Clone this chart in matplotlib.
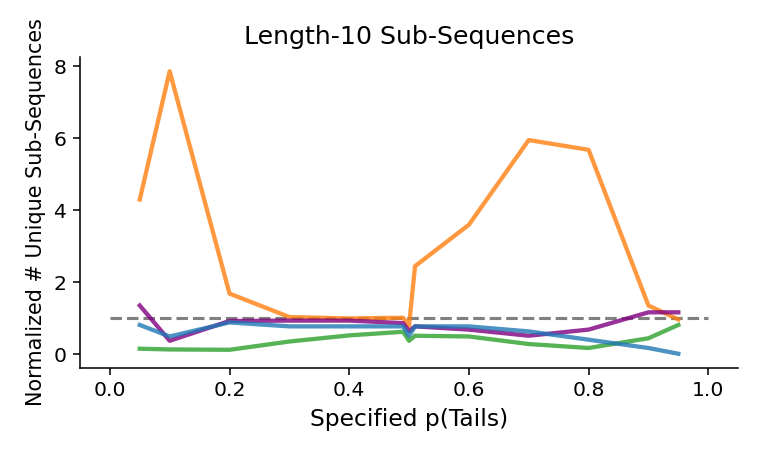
import numpy as np
import matplotlib
matplotlib.use("Agg")
import matplotlib.pyplot as plt

# specified probability of tails
p_tails = [0.05, 0.1, 0.2, 0.3, 0.4, 0.49, 0.5, 0.51, 0.6, 0.7, 0.8, 0.9, 0.95]

# normalized number of unique length-10 sub-sequences, one list per generator
orange_vals = [4.3, 7.86, 1.69, 1.04, 1.0, 1.02, 0.8, 2.45, 3.6, 5.95, 5.68, 1.36, 0.97]
green_vals = [0.16, 0.14, 0.13, 0.36, 0.53, 0.63, 0.38, 0.52, 0.5, 0.29, 0.18, 0.45, 0.82]
purple_vals = [1.36, 0.38, 0.93, 0.94, 0.94, 0.87, 0.65, 0.78, 0.69, 0.52, 0.69, 1.17, 1.17]
blue_vals = [0.82, 0.5, 0.89, 0.78, 0.78, 0.78, 0.52, 0.78, 0.78, 0.64, 0.41, 0.18, 0.02]

baseline_x = [0.0, 1.0]
baseline_y = [1.0, 1.0]

fig = plt.figure(figsize=(761 / 140, 457 / 140), dpi=140)
ax = fig.add_axes([0.105, 0.195, 0.865, 0.68])

ax.plot(baseline_x, baseline_y, linestyle="--", color="gray", lw=1.6)
ax.plot(p_tails, orange_vals, color="tab:orange", alpha=0.8, lw=2.2)
ax.plot(p_tails, green_vals, color="tab:green", alpha=0.8, lw=2.2)
ax.plot(p_tails, purple_vals, color="purple", alpha=0.8, lw=2.2)
ax.plot(p_tails, blue_vals, color="tab:blue", alpha=0.8, lw=2.2)

ax.set_title("Length-10 Sub-Sequences", fontsize=13, pad=7)
ax.set_xlabel("Specified p(Tails)", fontsize=12)
ax.set_ylabel("Normalized # Unique Sub-Sequences", fontsize=10.7)
ax.set_xticks(np.arange(0, 1.01, 0.2))
ax.set_yticks([0, 2, 4, 6, 8])
ax.tick_params(labelsize=10.5)
ax.spines["top"].set_visible(False)
ax.spines["right"].set_visible(False)

fig.savefig("out.png", dpi=140)
